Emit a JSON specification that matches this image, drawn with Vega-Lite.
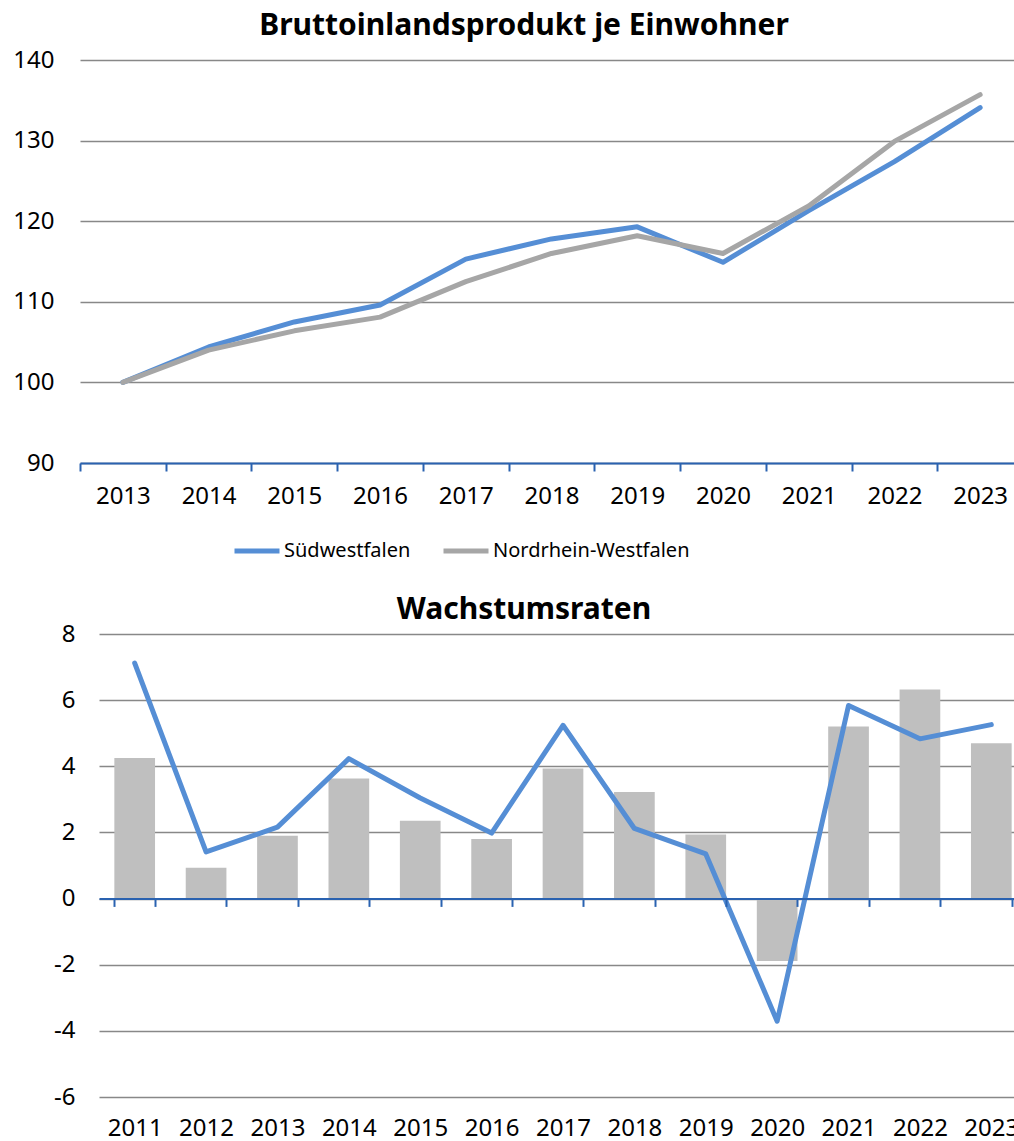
{
  "$schema": "https://vega.github.io/schema/vega-lite/v6.json",
  "padding": {"left": 12, "top": 11, "right": 0, "bottom": 0},
  "spacing": 87,
  "config": {
    "font": "Noto Sans",
    "view": {"stroke": null},
    "axis": {"labelColor": "#000000", "labelFont": "Noto Sans"},
    "title": {"color": "#000000", "font": "Noto Sans"}
  },
  "vconcat": [
    {
      "width": 916,
      "height": 403,
      "title": {"text": "Bruttoinlandsprodukt je Einwohner", "fontSize": 30, "fontWeight": "bold", "offset": 7, "dx": -33},
      "data": {
        "values": [
          {"year": "2013", "region": "Südwestfalen", "value": 100.0},
          {"year": "2014", "region": "Südwestfalen", "value": 104.4},
          {"year": "2015", "region": "Südwestfalen", "value": 107.5},
          {"year": "2016", "region": "Südwestfalen", "value": 109.6},
          {"year": "2017", "region": "Südwestfalen", "value": 115.3},
          {"year": "2018", "region": "Südwestfalen", "value": 117.8},
          {"year": "2019", "region": "Südwestfalen", "value": 119.3},
          {"year": "2020", "region": "Südwestfalen", "value": 114.9},
          {"year": "2021", "region": "Südwestfalen", "value": 121.3},
          {"year": "2022", "region": "Südwestfalen", "value": 127.4},
          {"year": "2023", "region": "Südwestfalen", "value": 134.1},
          {"year": "2013", "region": "Nordrhein-Westfalen", "value": 100.0},
          {"year": "2014", "region": "Nordrhein-Westfalen", "value": 104.0},
          {"year": "2015", "region": "Nordrhein-Westfalen", "value": 106.4},
          {"year": "2016", "region": "Nordrhein-Westfalen", "value": 108.1},
          {"year": "2017", "region": "Nordrhein-Westfalen", "value": 112.5},
          {"year": "2018", "region": "Nordrhein-Westfalen", "value": 116.0},
          {"year": "2019", "region": "Nordrhein-Westfalen", "value": 118.2},
          {"year": "2020", "region": "Nordrhein-Westfalen", "value": 116.0},
          {"year": "2021", "region": "Nordrhein-Westfalen", "value": 121.9},
          {"year": "2022", "region": "Nordrhein-Westfalen", "value": 129.9},
          {"year": "2023", "region": "Nordrhein-Westfalen", "value": 135.7}
        ]
      },
      "mark": {"type": "line", "strokeWidth": 5, "strokeCap": "round", "strokeJoin": "round"},
      "encoding": {
        "x": {
          "field": "year", "type": "ordinal",
          "scale": {"type": "band", "range": [-19, 924], "paddingInner": 0, "paddingOuter": 0},
          "axis": {"title": null, "labelAngle": 0, "tickBand": "extent", "grid": false,
                   "domainColor": "#2A62B0", "domainWidth": 2, "tickColor": "#2A62B0", "tickWidth": 2, "tickSize": 8,
                   "labelFontSize": 24, "labelPadding": 13}
        },
        "y": {
          "field": "value", "type": "quantitative",
          "scale": {"domain": [90, 140], "nice": false, "zero": false},
          "axis": {"title": null, "values": [90, 100, 110, 120, 130, 140], "domain": false, "ticks": false,
                   "labelPadding": 45, "labelFontSize": 24, "gridColor": "#888888", "gridWidth": 1.6}
        },
        "color": {
          "field": "region", "type": "nominal",
          "scale": {"domain": ["Südwestfalen", "Nordrhein-Westfalen"], "range": ["#558ED5", "#A6A6A6"]},
          "legend": {"title": null, "orient": "none", "legendX": 133, "legendY": 466, "direction": "horizontal",
                     "symbolType": "stroke", "symbolSize": 2025, "symbolStrokeWidth": 5,
                     "labelFontSize": 20, "labelOffset": 2, "columnPadding": 22, "labelLimit": 400, "padding": 0}
        }
      }
    },
    {
      "width": 916,
      "height": 463,
      "title": {"text": "Wachstumsraten", "fontSize": 30, "fontWeight": "bold", "offset": -3, "dx": -33},
      "data": {
        "values": [
          {"year": "2011", "nrw": 4.25, "swf": 7.12},
          {"year": "2012", "nrw": 0.93, "swf": 1.41},
          {"year": "2013", "nrw": 1.90, "swf": 2.16},
          {"year": "2014", "nrw": 3.63, "swf": 4.23},
          {"year": "2015", "nrw": 2.35, "swf": 3.04},
          {"year": "2016", "nrw": 1.80, "swf": 1.98},
          {"year": "2017", "nrw": 3.93, "swf": 5.24},
          {"year": "2018", "nrw": 3.22, "swf": 2.12},
          {"year": "2019", "nrw": 1.94, "swf": 1.35},
          {"year": "2020", "nrw": -1.89, "swf": -3.71},
          {"year": "2021", "nrw": 5.20, "swf": 5.84},
          {"year": "2022", "nrw": 6.32, "swf": 4.83},
          {"year": "2023", "nrw": 4.70, "swf": 5.26}
        ]
      },
      "encoding": {
        "x": {
          "field": "year", "type": "ordinal",
          "scale": {"type": "band", "range": [0, 928], "paddingInner": 0.43, "paddingOuter": 0.215},
          "axis": {"title": null, "labelAngle": 0, "tickBand": "extent", "grid": false, "offset": -198.6, "zindex": 1,
                   "domainColor": "#2A62B0", "domainWidth": 2, "tickColor": "#2A62B0", "tickWidth": 2, "tickSize": 8,
                   "labelFontSize": 24, "labelPadding": 210}
        }
      },
      "layer": [
        {
          "mark": {"type": "bar", "color": "#BFBFBF"},
          "encoding": {
            "y": {
              "field": "nrw", "type": "quantitative",
              "scale": {"domain": [-6, 8], "nice": false},
              "axis": {"title": null, "values": [-6, -4, -2, 0, 2, 4, 6, 8], "domain": false, "ticks": false,
                       "labelExpr": "replace(datum.label, '\u2212', '-')",
                       "labelPadding": 24, "labelFontSize": 24, "gridColor": "#888888", "gridWidth": 1.6}
            }
          }
        },
        {
          "mark": {"type": "line", "color": "#558ED5", "strokeWidth": 5, "strokeCap": "round", "strokeJoin": "round"},
          "encoding": {
            "y": {
              "field": "swf", "type": "quantitative",
              "axis": {"title": null, "values": [-6, -4, -2, 0, 2, 4, 6, 8], "domain": false, "ticks": false,
                       "labelExpr": "replace(datum.label, '\u2212', '-')",
                       "labelPadding": 24, "labelFontSize": 24, "gridColor": "#888888", "gridWidth": 1.6}
            }
          }
        }
      ]
    }
  ]
}
